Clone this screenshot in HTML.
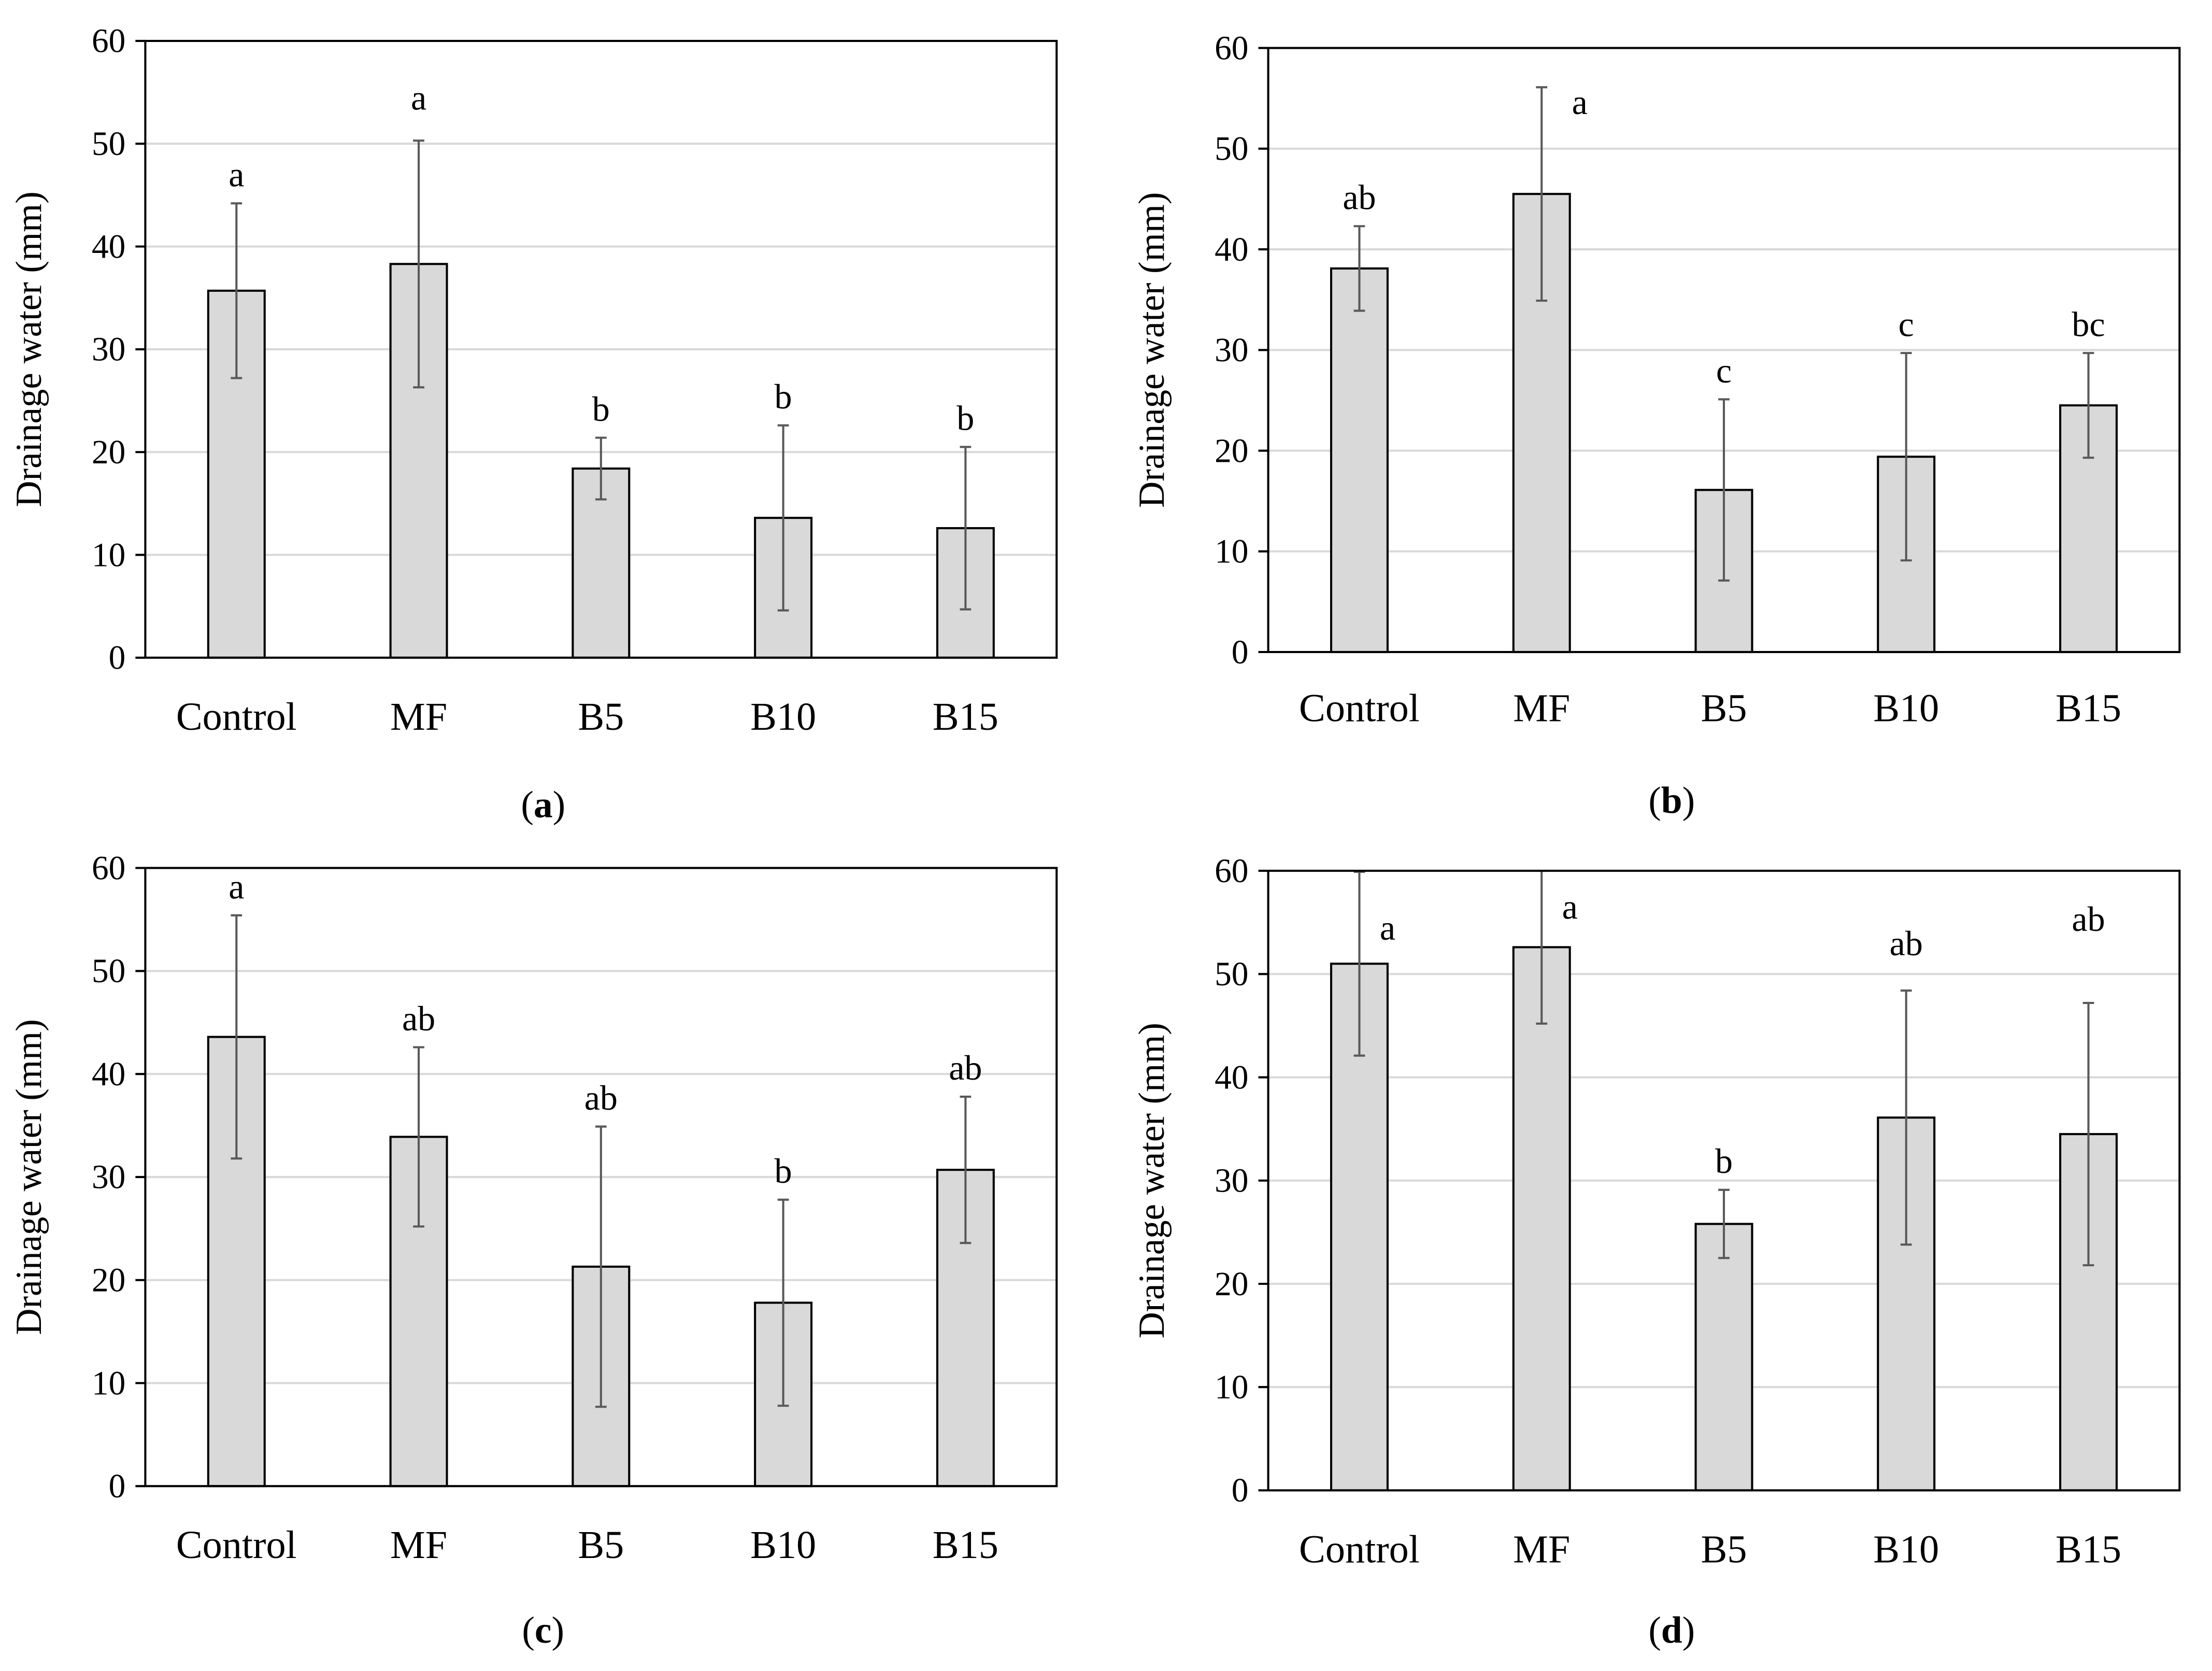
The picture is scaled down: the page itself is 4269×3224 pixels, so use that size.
<!DOCTYPE html>
<html><head><meta charset="utf-8"><style>
html,body{margin:0;padding:0;background:#fff;}
svg{display:block;}
text{font-family:"Liberation Serif",serif;fill:#000;}
</style></head><body>
<svg id="fig" width="4269" height="3224" viewBox="0 0 1568 1184" preserveAspectRatio="none" xmlns="http://www.w3.org/2000/svg"></svg>
<script>
const categories = ["Control","MF","B5","B10","B15"];
const yTicks = [0,10,20,30,40,50,60];
const valuesA = [35.7,38.3,18.4,13.6,12.6];
const errA = [8.5,12.0,3.0,9.0,7.9];
const lettersA = ["a","a","b","b","b"];
const valuesB = [38.1,45.5,16.1,19.4,24.5];
const errB = [4.2,10.6,9.0,10.3,5.2];
const lettersB = ["ab","a","c","c","bc"];
const valuesC = [43.6,33.9,21.3,17.8,30.7];
const errC = [11.8,8.7,13.6,10.0,7.1];
const lettersC = ["a","ab","ab","b","ab"];
const valuesD = [51.0,52.6,25.8,36.1,34.5];
const errD = [8.9,7.4,3.3,12.3,12.7];
const lettersD = ["a","a","b","ab","ab"];

const panels = [
 {id:"a",x0:103,x1:749,yTop:29,yBot:466,lab:508,cap:[385,570],v:valuesA,e:errA,l:lettersA,dx:[0,0,0,0,0],dy:[-12,-22,-12,-12,-12]},
 {id:"b",x0:899,x1:1545,yTop:34,yBot:462,lab:502,cap:[1185,567],v:valuesB,e:errB,l:lettersB,dx:[0,27,0,0,0],dy:[-12,19,-12,-12,-12]},
 {id:"c",x0:103,x1:749,yTop:615,yBot:1053,lab:1095,cap:[385,1155],v:valuesC,e:errC,l:lettersC,dx:[0,0,0,0,0],dy:[-12,-12,-12,-12,-12]},
 {id:"d",x0:899,x1:1545,yTop:617,yBot:1056,lab:1098,cap:[1185,1155],v:valuesD,e:errD,l:lettersD,dx:[20,20,0,0,0],dy:[48,34,-12,-25,-51]}
];
const svg=document.getElementById('fig');
const NS="http://www.w3.org/2000/svg";
function mk(tag,attrs,parent){const el=document.createElementNS(NS,tag);for(const k in attrs)el.setAttribute(k,attrs[k]);parent.appendChild(el);return el;}
panels.forEach(p=>{
 const g=mk('g',{},svg);
 
 
 const y=v=>p.yBot-(v/60)*(p.yBot-p.yTop);
 const step=(p.x1-p.x0)/5;
 const x=i=>p.x0+step*(i+0.5);
 yTicks.forEach(t=>{
  if(t>0&&t<60){const gl=mk('line',{x1:p.x0,x2:p.x1,y1:y(t),y2:y(t),stroke:'#d9d9d9','stroke-width':1.5},g);
   
   }
  const tk=mk('line',{x1:p.x0-7,x2:p.x0,y1:y(t),y2:y(t),stroke:'#000','stroke-width':1.5},g);
  
  
  const tl=mk('text',{x:p.x0-14,y:y(t)+8,'text-anchor':'end','font-size':24},g);
  tl.textContent=t;
  
  
 });
 p.v.forEach((v,i)=>{
  const b=mk('rect',{x:x(i)-20,y:y(v),width:40,height:p.yBot-y(v),fill:'#d9d9d9',stroke:'#000','stroke-width':1.5},g);
  
  
  const hi=Math.min(60,v+p.e[i]),lo=v-p.e[i];
  const eb=mk('path',{d:`M${x(i)} ${y(hi)}V${y(lo)}M${x(i)-4} ${y(hi)}h8M${x(i)-4} ${y(lo)}h8`,stroke:'#595959','stroke-width':1.5,fill:'none'},g);
  
  
  const lt=mk('text',{'font-size':25,'text-anchor':'middle',x:x(i)+p.dx[i],y:y(hi)+p.dy[i]},g);
  lt.textContent=p.l[i];
  
  
  const cl=mk('text',{x:x(i),y:p.lab+9,'text-anchor':'middle','font-size':28},g);
  cl.textContent=categories[i];
  
  
 });
 const fr=mk('rect',{x:p.x0,y:p.yTop,width:p.x1-p.x0,height:p.yBot-p.yTop,fill:'none',stroke:'#000','stroke-width':1.5},g);
 
 
 const yt=mk('text',{x:0,y:0,'text-anchor':'middle','font-size':26,transform:`translate(${p.x0-74},${(p.yTop+p.yBot)/2}) rotate(-90)`},g);
 yt.textContent='Drainage water (mm)';
 
 
 const cp=mk('text',{x:p.cap[0],y:p.cap[1]+9,'text-anchor':'middle','font-size':27},g);
 cp.innerHTML='(<tspan font-weight="bold">'+p.id+'</tspan>)';
 
 
});
</script>
</body></html>
